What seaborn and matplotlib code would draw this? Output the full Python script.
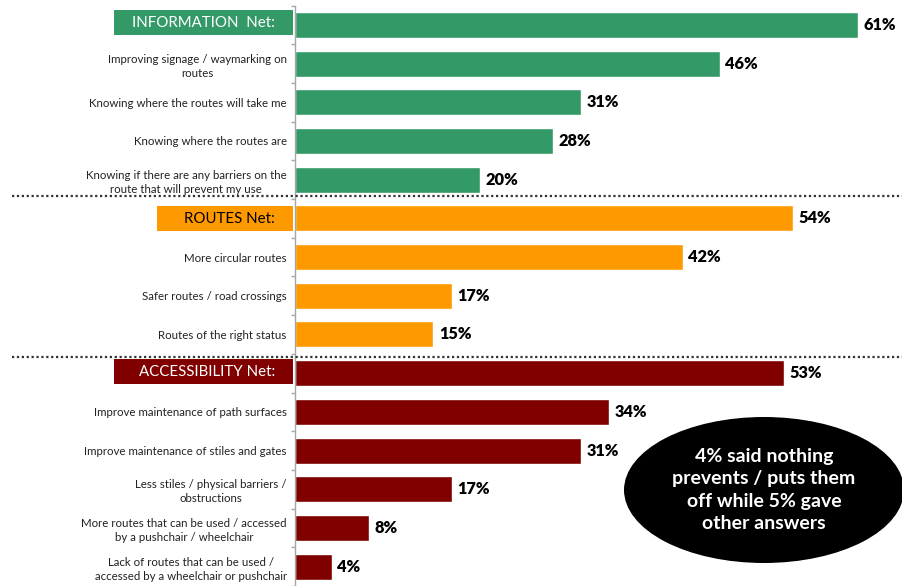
import matplotlib
matplotlib.use("Agg")
import matplotlib.pyplot as plt
from matplotlib.patches import Rectangle, Ellipse
import seaborn as sns
import pandas as pd

categories = [
    "INFORMATION  Net:",
    "Improving signage / waymarking on\nroutes",
    "Knowing where the routes will take me",
    "Knowing where the routes are",
    "Knowing if there are any barriers on the\nroute that will prevent my use",
    "ROUTES Net:",
    "More circular routes",
    "Safer routes / road crossings",
    "Routes of the right status",
    "ACCESSIBILITY Net:",
    "Improve maintenance of path surfaces",
    "Improve maintenance of stiles and gates",
    "Less stiles / physical barriers /\nobstructions",
    "More routes that can be used / accessed\nby a pushchair / wheelchair",
    "Lack of routes that can be used /\naccessed by a wheelchair or pushchair",
]
values = [61, 46, 31, 28, 20, 54, 42, 17, 15, 53, 34, 31, 17, 8, 4]
groups = ["Information"] * 5 + ["Routes"] * 4 + ["Accessibility"] * 6
net_rows = [0, 5, 9]
group_colors = {"Information": "#339966", "Routes": "#FF9900", "Accessibility": "#800000"}
net_text_colors = ["white", "black", "white"]
note = "4% said nothing\nprevents / puts them\noff while 5% gave\nother answers"

sns.set_theme(style="white")
plt.rcParams["font.family"] = ["Lato", "DejaVu Sans"]

W, H = 903, 586
fig = plt.figure(figsize=(W / 100, H / 100), dpi=100)
ax_left, ax_top = 295, 5.5
ax = fig.add_axes([ax_left / W, 0, 1 - ax_left / W, 1 - ax_top / H])

df = pd.DataFrame({"label": categories, "value": values, "group": groups})
sns.barplot(data=df, x="value", y="label", hue="group", palette=group_colors,
            dodge=False, width=0.67, legend=False, ax=ax, saturation=1)

px_per_pct = (859 - 296) / 61
ax.set_xlim(0, (W - ax_left) / px_per_pct)
row_px = 38.9
ax.set_ylim(14.5 - 3 / row_px, -0.5)

for cont in ax.containers:
    ax.bar_label(cont, labels=[f"{v:.0f}%" for v in cont.datavalues], padding=4,
                 fontsize=11.8, fontweight="heavy", color="black")

# axis styling
for s in ["top", "right", "bottom"]:
    ax.spines[s].set_visible(False)
ax.spines["left"].set_color("#a6a6a6")
ax.spines["left"].set_linewidth(1)
ax.set_xticks([])
ax.set_xlabel("")
ax.set_ylabel("")
ax.set_yticks(range(len(categories)))
ax.set_yticklabels([("" if i in net_rows else c) for i, c in enumerate(categories)])
ax.set_yticks([i - 0.5 for i in range(len(categories) + 1)], minor=True)
ax.tick_params(axis="y", which="major", length=0, pad=6, labelsize=8.3, labelcolor="#222222")
ax.tick_params(axis="y", which="minor", length=3, width=1, color="#a6a6a6", left=True)
for t in ax.get_yticklabels():
    t.set_multialignment("center")
    t.set_linespacing(1.35)

# group header boxes
box_specs = [(114, 10, 35), (157, 206, 231), (114, 359, 384)]
for (x0, y0, y1), row, tcol in zip(box_specs, net_rows, net_text_colors):
    color = group_colors[groups[row]]
    fig.patches.append(Rectangle((x0 / W, 1 - y1 / H), (293 - x0) / W, (y1 - y0) / H,
                                 transform=fig.transFigure, facecolor=color,
                                 edgecolor="none"))
    fig.text(275 / W, 1 - ((y0 + y1) / 2 + 0.5) / H, categories[row], ha="right", va="center",
             color=tcol, fontsize=10.8)

# dotted separators between groups
for y in [196, 357]:
    fig.add_artist(plt.Line2D([12 / W, 1], [1 - y / H, 1 - y / H], transform=fig.transFigure,
                              color="#333333", lw=1.6, linestyle=(0, (1, 1.2))))

# note bubble
fig.patches.append(Ellipse((764 / W, 1 - 490 / H), 280 / W, 146 / H,
                           transform=fig.transFigure, facecolor="black", edgecolor="none"))
fig.text(764 / W, 1 - 490 / H, note, ha="center", va="center", color="white",
         fontsize=14, fontweight="bold", linespacing=1.4)

fig.savefig("out.png", dpi=100)
